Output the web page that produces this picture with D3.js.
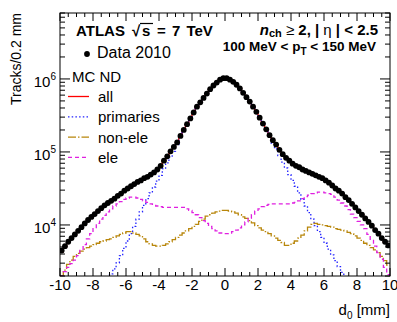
<!DOCTYPE html>
<html>
<head>
<meta charset="utf-8">
<script src="https://cdn.jsdelivr.net/npm/d3@7"></script>
<style>
  body { margin: 0; background: #fff; }
  text { font-family: "Liberation Sans", Arial, Helvetica, sans-serif; }
</style>
</head>
<body>
<div id="chart"></div>
<script>
const width = 397, height = 322;

// d0 histogram: 100 bins of 0.2 mm from -10 to 10 (values listed left to right)
const binLow = -10, binWidth = 0.2;

const data2010 = [
  4470, 5130, 5890, 6610, 7410, 8320, 9330, 10500, 11700, 12900,
  14100, 15500, 17000, 18600, 20000, 21400, 22900, 25100, 26900, 29500,
  31600, 33900, 36300, 38900, 40700, 43700, 45700, 49000, 52500, 57500,
  64600, 75900, 87100, 102000, 117000, 135000, 166000, 200000, 240000, 288000,
  347000, 417000, 479000, 550000, 631000, 724000, 813000, 891000, 977000, 1023000,
  1023000, 977000, 912000, 832000, 741000, 646000, 562000, 490000, 417000, 355000,
  295000, 245000, 204000, 170000, 145000, 126000, 107000, 93300, 83200, 75900,
  69200, 64600, 61700, 57500, 55000, 52500, 50100, 47900, 45700, 43700,
  40700, 38000, 34700, 31600, 29500, 26900, 24000, 21900, 19500, 17400,
  15500, 13800, 12300, 11000, 9770, 8510, 7590, 6610, 5890, 5250
];

const mcAll = [
  4300, 5000, 5800, 6550, 7350, 8250, 9250, 10400, 11600, 12800,
  14000, 15400, 16900, 18500, 19900, 21300, 22800, 25000, 26800, 29400,
  31500, 33800, 36200, 38800, 40600, 43600, 45600, 48900, 52400, 57400,
  64500, 75800, 87000, 102000, 117000, 135000, 166000, 200000, 240000, 288000,
  347000, 417000, 479000, 550000, 631000, 724000, 813000, 891000, 977000, 1020000,
  1020000, 977000, 912000, 832000, 741000, 646000, 562000, 490000, 417000, 355000,
  295000, 245000, 204000, 170000, 145000, 126000, 107000, 93300, 83200, 75900,
  69200, 64600, 61700, 57500, 55000, 52500, 50100, 47900, 45700, 43700,
  40700, 38000, 34700, 31600, 29500, 26900, 24000, 21900, 19500, 17400,
  15500, 13800, 12300, 11000, 9770, 8510, 7590, 6610, 5800, 5100
];

const mcPrimaries = [
  166, 200, 234, 282, 331, 398, 479, 562, 676, 794,
  955, 1120, 1320, 1550, 1820, 2140, 2510, 3020, 3800, 4790,
  6030, 7590, 9550, 12000, 15100, 18600, 22900, 27500, 33100, 39800,
  47900, 58900, 70800, 85100, 102000, 126000, 158000, 191000, 234000, 282000,
  339000, 407000, 468000, 537000, 617000, 708000, 794000, 871000, 955000, 1000000,
  1000000, 955000, 891000, 813000, 724000, 631000, 550000, 479000, 407000, 347000,
  288000, 240000, 200000, 162000, 132000, 110000, 89100, 72400, 60300, 49000,
  40700, 33900, 27500, 22400, 18200, 14800, 12000, 9770, 8130, 6760,
  5620, 4680, 3890, 3240, 2690, 2240, 1860, 1550, 1290, 1070,
  891, 741, 617, 513, 427, 355, 295, 245, 204, 170
];

const mcNonEle = [
  2000, 2400, 2880, 3310, 3720, 4070, 4370, 4680, 4900, 5130,
  5370, 5620, 5890, 6030, 6310, 6460, 6760, 7080, 7410, 7760,
  8130, 8130, 7760, 7410, 7080, 6460, 5890, 5500, 5250, 5130,
  5130, 5250, 5500, 5890, 6310, 6760, 7240, 7760, 8320, 8910,
  9550, 10200, 11200, 12000, 13200, 13800, 14500, 15100, 15500, 15800,
  15800, 15500, 15100, 14500, 13800, 12900, 12300, 11500, 10700, 9770,
  9120, 8510, 8130, 7590, 7080, 6610, 6170, 5750, 5250, 5250,
  5620, 6030, 6610, 7240, 8320, 9330, 10200, 10500, 10200, 10000,
  9770, 9550, 9330, 8910, 8710, 8510, 8320, 7940, 7590, 7080,
  6610, 6170, 5620, 5250, 4900, 4570, 4170, 3720, 3240, 2820
];

const mcEle = [
  2000, 2290, 2630, 2950, 3310, 3800, 4470, 5370, 6460, 7590,
  8910, 10500, 12000, 13500, 15100, 16600, 18200, 19500, 20900, 22400,
  23400, 24000, 24000, 23400, 22400, 21400, 20400, 19500, 18600, 18200,
  17800, 17400, 17400, 17400, 17400, 17400, 17400, 17400, 16600, 15800,
  14800, 13800, 12600, 11500, 10500, 9550, 8910, 8320, 7760, 7590,
  7590, 7760, 8130, 8510, 9120, 10000, 11000, 12300, 13800, 15500,
  16600, 17800, 18600, 19100, 19500, 19500, 19500, 19500, 19500, 19500,
  20000, 20400, 21400, 22900, 24500, 25700, 26900, 27500, 28200, 28200,
  27500, 26900, 26300, 24000, 21900, 20000, 18200, 16200, 14100, 12600,
  11200, 10000, 8910, 7410, 6170, 5130, 4170, 3390, 2630, 2090
];

const xTickValues = [-10, -8, -6, -4, -2, 0, 2, 4, 6, 8, 10];
const yTickPowers = [4, 5, 6];
const legendLabels = ["all", "primaries", "non-ele", "ele"];

const margin = { left: 60, right: 7, top: 13, bottom: 46 };
const x = d3.scaleLinear().domain([-10, 10]).range([margin.left, width - margin.right]);
const y = d3.scaleLog().domain([2000, 8e6]).range([height - margin.bottom, margin.top]);
const x0 = x.range()[0], x1 = x.range()[1], y0 = y.range()[0], y1 = y.range()[1];

const svg = d3.select("#chart").append("svg")
  .attr("width", width)
  .attr("height", height);

svg.append("defs").append("clipPath").attr("id", "frame")
  .append("rect").attr("x", x0).attr("y", y1).attr("width", x1 - x0).attr("height", y0 - y1);

const edge = i => binLow + i * binWidth;
const clampV = v => Math.max(v, 1500);

function stepPoints(vals) {
  const pts = [];
  vals.forEach((v, i) => {
    pts.push([x(edge(i)), y(clampV(v))]);
    pts.push([x(edge(i + 1)), y(clampV(v))]);
  });
  return pts;
}

const series = [
  { vals: mcAll, color: "#ff0000", dash: null, w: 1.3 },
  { vals: mcPrimaries, color: "#2222ff", dash: "1.5,2.2", w: 1.3 },
  { vals: mcNonEle, color: "#b8860b", dash: "8,2,1.5,2", w: 1.3 },
  { vals: mcEle, color: "#e020e0", dash: "4,3", w: 1.3 }
];

const plot = svg.append("g").attr("clip-path", "url(#frame)");
const line = d3.line();

series.forEach(s => {
  plot.append("path")
    .attr("d", line(stepPoints(s.vals)))
    .attr("fill", "none")
    .attr("stroke", s.color)
    .attr("stroke-width", s.w)
    .attr("stroke-dasharray", s.dash);
});

// data points
plot.selectAll("circle.data")
  .data(data2010)
  .enter().append("circle")
  .attr("class", "data")
  .attr("cx", (d, i) => x(edge(i) + binWidth / 2))
  .attr("cy", d => y(d))
  .attr("r", 2.9)
  .attr("fill", "#000");

// frame
svg.append("rect")
  .attr("x", x0).attr("y", y1)
  .attr("width", x1 - x0).attr("height", y0 - y1)
  .attr("fill", "none").attr("stroke", "#000").attr("stroke-width", 1);

// x ticks (bottom + top, inward)
const ax = svg.append("g").attr("stroke", "#000").attr("stroke-width", 1);
const xMinor = d3.range(-10, 10.01, 0.5).filter(v => Math.abs(v % 2) > 1e-6);
xTickValues.forEach(v => {
  ax.append("line").attr("x1", x(v)).attr("x2", x(v)).attr("y1", y0).attr("y2", y0 - 8);
  ax.append("line").attr("x1", x(v)).attr("x2", x(v)).attr("y1", y1).attr("y2", y1 + 8);
});
xMinor.forEach(v => {
  ax.append("line").attr("x1", x(v)).attr("x2", x(v)).attr("y1", y0).attr("y2", y0 - 4);
  ax.append("line").attr("x1", x(v)).attr("x2", x(v)).attr("y1", y1).attr("y2", y1 + 4);
});

// y ticks (left + right, inward)
const yDomain = y.domain();
const yMinor = [];
[3, 4, 5, 6].forEach(p => d3.range(2, 10).forEach(k => {
  const v = k * Math.pow(10, p);
  if (v >= yDomain[0] && v <= yDomain[1]) yMinor.push(v);
}));
yTickPowers.forEach(p => {
  const yy = y(Math.pow(10, p));
  ax.append("line").attr("x1", x0).attr("x2", x0 + 10).attr("y1", yy).attr("y2", yy);
  ax.append("line").attr("x1", x1).attr("x2", x1 - 10).attr("y1", yy).attr("y2", yy);
});
yMinor.forEach(v => {
  const yy = y(v);
  ax.append("line").attr("x1", x0).attr("x2", x0 + 5).attr("y1", yy).attr("y2", yy);
  ax.append("line").attr("x1", x1).attr("x2", x1 - 5).attr("y1", yy).attr("y2", yy);
});

// tick labels
svg.selectAll("text.xl")
  .data(xTickValues)
  .enter().append("text")
  .attr("class", "xl")
  .attr("x", d => x(d))
  .attr("y", y0 + 14)
  .attr("text-anchor", "middle")
  .attr("font-size", 15)
  .text(d => d);

yTickPowers.forEach(p => {
  const t = svg.append("text")
    .attr("x", x0 - 4)
    .attr("y", y(Math.pow(10, p)) + 8)
    .attr("text-anchor", "end")
    .attr("font-size", 15);
  t.append("tspan").text("10");
  t.append("tspan").attr("dy", -7).attr("font-size", 10).text(p);
});

// axis titles
svg.append("text")
  .attr("transform", `translate(21,${y1}) rotate(-90)`)
  .attr("text-anchor", "end")
  .attr("font-size", 14)
  .text("Tracks/0.2 mm");

const xt = svg.append("text")
  .attr("x", x1)
  .attr("y", 315)
  .attr("text-anchor", "end")
  .attr("font-size", 15);
xt.append("tspan").text("d");
xt.append("tspan").attr("dy", 4).attr("font-size", 10).text("0");
xt.append("tspan").attr("dy", -4).text(" [mm]");

// header
svg.append("text")
  .attr("x", 76).attr("y", 36)
  .attr("font-size", 15).attr("font-weight", "bold")
  .text("ATLAS");
svg.append("text")
  .attr("x", 132).attr("y", 36)
  .attr("font-size", 15).attr("font-weight", "bold")
  .text("\u221A");
svg.append("line")
  .attr("x1", 140).attr("x2", 153).attr("y1", 23.5).attr("y2", 23.5)
  .attr("stroke", "#000").attr("stroke-width", 1.2);
svg.append("text")
  .attr("x", 142).attr("y", 36)
  .attr("font-size", 15).attr("font-weight", "bold")
  .text("s");
svg.append("text")
  .attr("x", 157).attr("y", 36)
  .attr("font-size", 15).attr("font-weight", "bold")
  .attr("word-spacing", 2)
  .text("= 7 TeV");

const h2 = svg.append("text")
  .attr("x", 378).attr("y", 35)
  .attr("text-anchor", "end")
  .attr("font-size", 15).attr("font-weight", "bold");
h2.append("tspan").attr("font-style", "italic").text("n");
h2.append("tspan").attr("dy", 2).attr("font-size", 11).text("ch");
h2.append("tspan").attr("dy", -2).attr("font-weight", "normal").text(" \u2265");
h2.append("tspan").text(" 2, | ");
h2.append("tspan").attr("font-weight", "normal").text("\u03B7");
h2.append("tspan").text(" | < 2.5");

const h3 = svg.append("text")
  .attr("x", 376).attr("y", 51)
  .attr("text-anchor", "end")
  .attr("font-size", 13.5).attr("font-weight", "bold");
h3.append("tspan").text("100 MeV < p");
h3.append("tspan").attr("dy", 4).attr("font-size", 10).text("T");
h3.append("tspan").attr("dy", -4).text(" < 150 MeV");

// legends
svg.append("circle").attr("cx", 87).attr("cy", 54).attr("r", 2.9).attr("fill", "#000");
svg.append("text").attr("x", 97).attr("y", 58).attr("font-size", 16).text("Data 2010");
svg.append("text").attr("x", 72).attr("y", 82).attr("font-size", 15).text("MC ND");

const leg = svg.append("g");
legendLabels.forEach((lab, i) => {
  const base = 102 + i * 20.3;
  const s = series[i];
  leg.append("line")
    .attr("x1", 68).attr("x2", 89)
    .attr("y1", base - 5.5).attr("y2", base - 5.5)
    .attr("stroke", s.color).attr("stroke-width", s.w)
    .attr("stroke-dasharray", s.dash);
  leg.append("text").attr("x", 98).attr("y", base).attr("font-size", 15).text(lab);
});
</script>
</body>
</html>
